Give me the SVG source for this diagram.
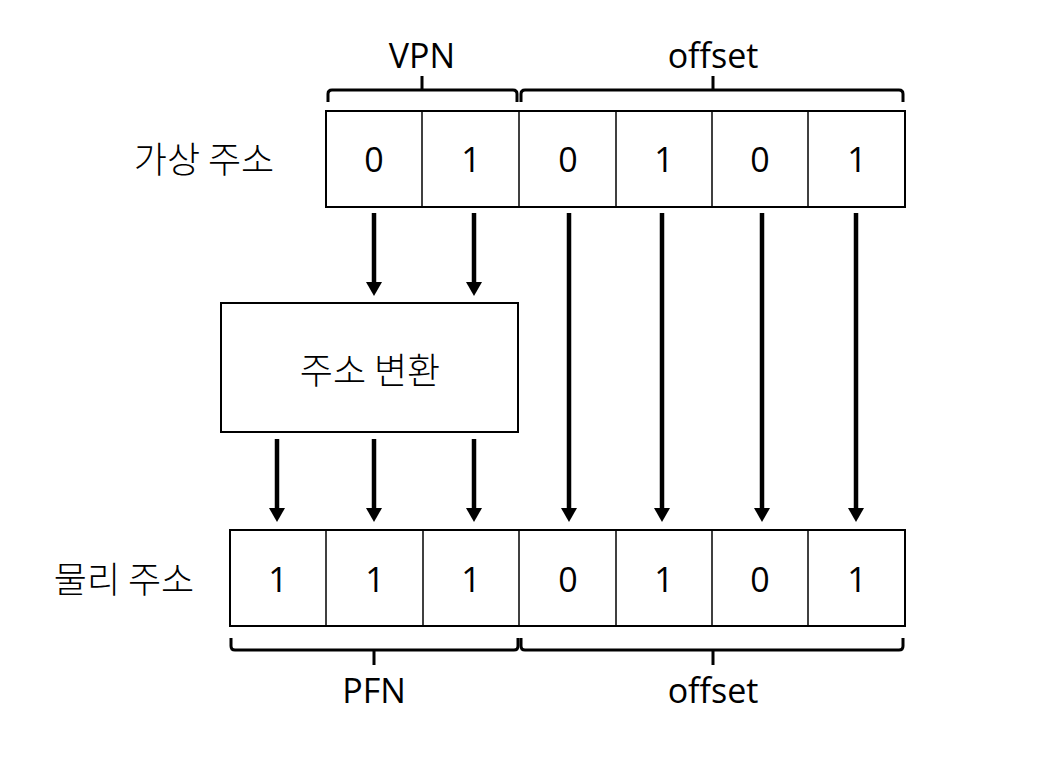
<svg xmlns="http://www.w3.org/2000/svg" width="1038" height="770" viewBox="0 0 1038 770">
<defs>
<marker id="ah" viewBox="0 0 14 16" refX="0" refY="8" markerWidth="14" markerHeight="16" markerUnits="userSpaceOnUse" orient="auto">
<path d="M0,0 L14,8 L0,16 Z" fill="#000"/>
</marker>
</defs>
<style>
.box{fill:#fff;stroke:#000;stroke-width:2}
.div{stroke:#000;stroke-width:1.5}
.dig{font-family:"Open Sans","Noto Sans",sans-serif;font-size:34px;text-anchor:middle;fill:#000}
.lab{font-family:"Open Sans","Noto Sans",sans-serif;font-size:34px;text-anchor:middle;fill:#000}
.kr{font-family:"Noto Sans CJK KR",sans-serif;font-size:36px;font-weight:300;fill:#000}
.brace{fill:none;stroke:#000;stroke-width:3}
.arr{stroke:#000;stroke-width:4.5;fill:none}
</style>
<rect width="1038" height="770" fill="#fff"/>

<g id="virtual-address">
<text class="kr" x="204" y="173" text-anchor="middle">가상 주소</text>
<rect class="box" x="326" y="111" width="579" height="96"/>
<line class="div" x1="422" y1="111" x2="422" y2="207"/>
<line class="div" x1="519" y1="111" x2="519" y2="207"/>
<line class="div" x1="616" y1="111" x2="616" y2="207"/>
<line class="div" x1="712" y1="111" x2="712" y2="207"/>
<line class="div" x1="808" y1="111" x2="808" y2="207"/>
<text class="dig" x="374" y="172">0</text>
<text class="dig" x="471" y="172">1</text>
<text class="dig" x="568" y="172">0</text>
<text class="dig" x="664" y="172">1</text>
<text class="dig" x="760" y="172">0</text>
<text class="dig" x="857" y="172">1</text>
</g>

<g id="vpn-brace">
<path class="brace" d="M328,102 L328,94 Q328,90 332,90 L513,90 Q517,90 517,94 L517,102 M422,90 L422,76"/>
<text class="lab" x="422" y="68">VPN</text>
</g>

<g id="offset-brace-top">
<path class="brace" d="M521,102 L521,94 Q521,90 525,90 L899,90 Q903,90 903,94 L903,102 M713,90 L713,76"/>
<text class="lab" x="713" y="68">offset</text>
</g>

<g id="translation">
<rect class="box" x="221" y="303" width="297" height="129"/>
<text class="kr" x="370" y="384" text-anchor="middle">주소 변환</text>
</g>

<g id="physical-address">
<text class="kr" x="124" y="593" text-anchor="middle">물리 주소</text>
<rect class="box" x="230" y="530" width="675" height="96"/>
<line class="div" x1="326" y1="530" x2="326" y2="626"/>
<line class="div" x1="423" y1="530" x2="423" y2="626"/>
<line class="div" x1="519" y1="530" x2="519" y2="626"/>
<line class="div" x1="616" y1="530" x2="616" y2="626"/>
<line class="div" x1="712" y1="530" x2="712" y2="626"/>
<line class="div" x1="808" y1="530" x2="808" y2="626"/>
<text class="dig" x="278" y="592">1</text>
<text class="dig" x="375" y="592">1</text>
<text class="dig" x="471" y="592">1</text>
<text class="dig" x="568" y="592">0</text>
<text class="dig" x="664" y="592">1</text>
<text class="dig" x="760" y="592">0</text>
<text class="dig" x="857" y="592">1</text>
</g>

<g id="pfn-brace">
<path class="brace" d="M231,638 L231,646 Q231,650 235,650 L514,650 Q518,650 518,646 L518,638 M374,650 L374,665"/>
<text class="lab" x="374" y="703">PFN</text>
</g>

<g id="offset-brace-bottom">
<path class="brace" d="M521,638 L521,646 Q521,650 525,650 L899,650 Q903,650 903,646 L903,638 M713,650 L713,665"/>
<text class="lab" x="713" y="703">offset</text>
</g>

<g id="connectors">
<line class="arr" x1="374" y1="213" x2="374" y2="282" marker-end="url(#ah)"/>
<line class="arr" x1="474" y1="213" x2="474" y2="282" marker-end="url(#ah)"/>
<line class="arr" x1="277" y1="439" x2="277" y2="508" marker-end="url(#ah)"/>
<line class="arr" x1="374" y1="439" x2="374" y2="508" marker-end="url(#ah)"/>
<line class="arr" x1="474" y1="439" x2="474" y2="508" marker-end="url(#ah)"/>
<line class="arr" x1="569" y1="213" x2="569" y2="508" marker-end="url(#ah)"/>
<line class="arr" x1="662" y1="213" x2="662" y2="508" marker-end="url(#ah)"/>
<line class="arr" x1="762" y1="213" x2="762" y2="508" marker-end="url(#ah)"/>
<line class="arr" x1="856" y1="213" x2="856" y2="508" marker-end="url(#ah)"/>
</g>
</svg>
